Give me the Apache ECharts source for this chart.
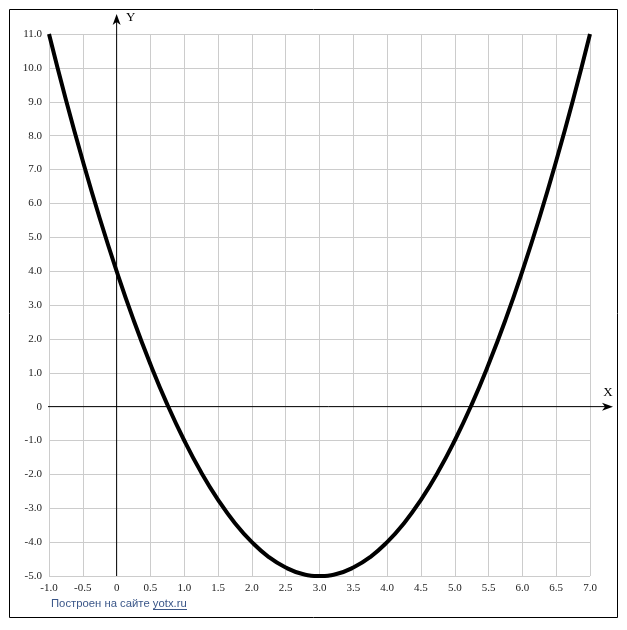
<!DOCTYPE html>
<html>
<head>
<meta charset="utf-8">
<script src="https://cdn.jsdelivr.net/npm/echarts@6/dist/echarts.min.js"></script>
<style>
html,body{margin:0;padding:0;background:#fff;}
#c{width:627px;height:630px;}
</style>
</head>
<body>
<div id="c"></div>
<script>
// Values
var xValues = [-1, -0.75, -0.5, -0.25, 0, 0.25, 0.5, 0.75, 1, 1.25, 1.5, 1.75, 2, 2.25, 2.5, 2.75, 3,
               3.25, 3.5, 3.75, 4, 4.25, 4.5, 4.75, 5, 5.25, 5.5, 5.75, 6, 6.25, 6.5, 6.75, 7];
var yValues = [11, 9.06, 7.25, 5.56, 4, 2.56, 1.25, 0.06, -1, -1.94, -2.75, -3.44, -4, -4.44, -4.75, -4.94, -5,
               -4.94, -4.75, -4.44, -4, -3.44, -2.75, -1.94, -1, 0.06, 1.25, 2.56, 4, 5.56, 7.25, 9.06, 11];
var xRange = [-1, 7];
var yRange = [-5, 11];
var xStep = 0.5;
var yStep = 1;
var axisNames = ['X', 'Y'];
var footerText = 'Построен на сайте ';
var footerLink = 'yotx.ru';

var points = xValues.map(function (x, i) { return [x, yValues[i]]; });
function fmt(v) { return v === 0 ? '0' : v.toFixed(1); }

var chart = echarts.init(document.getElementById('c'));
var labelStyle = { color: '#222', fontSize: 11, fontFamily: 'Liberation Serif' };
chart.setOption({
  animation: false,
  backgroundColor: '#fff',
  grid: { left: 49, right: 37, top: 34, bottom: 54, containLabel: false },
  xAxis: {
    type: 'value', min: xRange[0], max: xRange[1], interval: xStep,
    axisLine: { show: false }, axisTick: { show: false },
    axisLabel: Object.assign({ formatter: fmt, margin: 7 }, labelStyle),
    splitLine: { show: true, lineStyle: { color: '#cccccc', width: 1 } }
  },
  yAxis: {
    type: 'value', min: yRange[0], max: yRange[1], interval: yStep,
    axisLine: { show: false }, axisTick: { show: false },
    axisLabel: Object.assign({ formatter: fmt, margin: 7 }, labelStyle),
    splitLine: { show: true, lineStyle: { color: '#cccccc', width: 1 } }
  },
  series: [{
    type: 'line', data: points, smooth: true, showSymbol: false, symbol: 'none',
    lineStyle: { color: '#000', width: 4 }, z: 5
  }]
});

function drawExtras() {
  var o = chart.convertToPixel({ gridIndex: 0 }, [0, 0]);
  var left = chart.convertToPixel({ gridIndex: 0 }, [xRange[0], 0]);
  var right = chart.convertToPixel({ gridIndex: 0 }, [xRange[1], 0]);
  var top = chart.convertToPixel({ gridIndex: 0 }, [0, yRange[1]]);
  var bottom = chart.convertToPixel({ gridIndex: 0 }, [0, yRange[0]]);
  var xEnd = right[0] + 23, yEnd = top[1] - 20;
  var footColor = '#3a5688';
  var footFont = '11.3px "Liberation Sans"';
  var ctx = document.createElement('canvas').getContext('2d');
  ctx.font = footFont;
  var w1 = ctx.measureText(footerText).width;
  var w2 = ctx.measureText(footerLink).width;
  var fx = 51;
  chart.setOption({
    graphic: [
      { type: 'rect', shape: { x: 9.5, y: 9.5, width: 608, height: 608 },
        style: { fill: null, stroke: '#000', lineWidth: 1 }, z: 10 },
      { type: 'line', shape: { x1: left[0] - 1, y1: o[1], x2: xEnd - 4, y2: o[1] },
        style: { stroke: '#000', lineWidth: 1 }, z: 6 },
      { type: 'polygon', shape: { points: [[xEnd, o[1]], [xEnd - 11, o[1] - 4], [xEnd - 8, o[1]], [xEnd - 11, o[1] + 4]] },
        style: { fill: '#000' }, z: 6 },
      { type: 'line', shape: { x1: o[0], y1: bottom[1], x2: o[0], y2: yEnd + 4 },
        style: { stroke: '#000', lineWidth: 1 }, z: 6 },
      { type: 'polygon', shape: { points: [[o[0], yEnd], [o[0] - 4, yEnd + 11], [o[0], yEnd + 8], [o[0] + 4, yEnd + 11]] },
        style: { fill: '#000' }, z: 6 },
      { type: 'text', x: xEnd - 5, y: o[1] - 14,
        style: { text: axisNames[0], font: '13px "Liberation Serif"', fill: '#000', align: 'center', verticalAlign: 'middle' }, z: 6 },
      { type: 'text', x: o[0] + 14, y: yEnd + 4,
        style: { text: axisNames[1], font: '13px "Liberation Serif"', fill: '#000', align: 'center', verticalAlign: 'middle' }, z: 6 },
      { type: 'text', x: fx, y: 604,
        style: { text: footerText + footerLink, font: footFont, fill: footColor, verticalAlign: 'middle' }, z: 6 },
      { type: 'line', shape: { x1: Math.round(fx + w1), y1: 609.5, x2: Math.round(fx + w1 + w2), y2: 609.5 },
        style: { stroke: footColor, lineWidth: 1 }, z: 6 }
    ]
  });
}
drawExtras();
</script>
</body>
</html>
